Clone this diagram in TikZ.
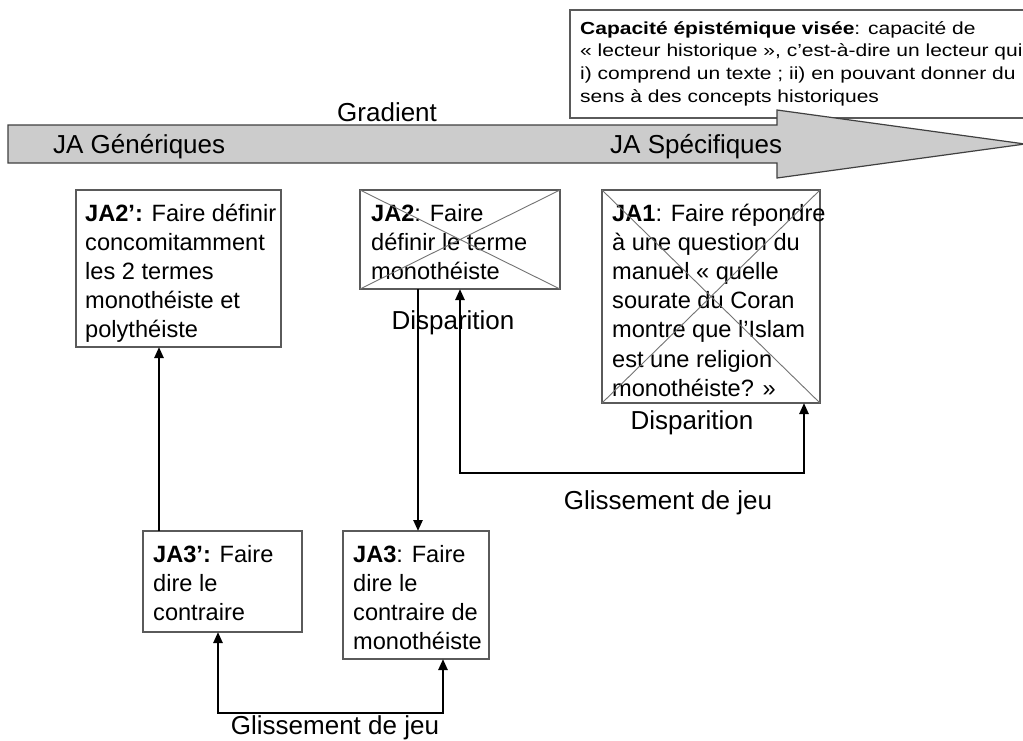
\documentclass[tikz,border=0pt]{standalone}
\usepackage{fontspec}
\setmainfont{Liberation Sans}
\newfontfamily\capfont[FakeStretch=1.2]{Liberation Sans}
\usetikzlibrary{arrows.meta}
\definecolor{arrowfill}{HTML}{CCCCCC}
\definecolor{boxline}{HTML}{5A5A5A}
\tikzset{
  box/.style={draw=boxline, line width=1.1pt, inner sep=0pt, outer sep=0pt, anchor=north west},
  boxtext/.style={inner sep=0pt, anchor=base west, font=\fontsize{23.6}{29.2}\selectfont},
  lbl/.style={inner sep=0pt, anchor=base, font=\fontsize{26}{30}\selectfont},
  biglbl/.style={inner sep=0pt, anchor=base west, font=\fontsize{26}{30}\selectfont},
  tip/.tip={Triangle[length=11pt,width=9pt]},
  conn/.style={line width=2.4pt, -tip},
  conntwo/.style={line width=2.4pt, tip-tip},
  crossline/.style={draw=black!55, line width=0.9pt},
}
\begin{document}
\begin{tikzpicture}[x=1pt,y=-1pt]
\useasboundingbox (0,0) rectangle (1023,740);
\fill[white] (0,0) rectangle (1023,740);

% target capacity box
\node[box, minimum width=460pt, minimum height=108pt] (cap) at (570,10) {};
\node[inner sep=0pt, anchor=base west, font=\capfont\fontsize{17.5}{22.7}\selectfont] (captext)
  at ([xshift=10pt,yshift=-24pt]cap.north west)
  {\begin{tabular}[t]{@{}l@{}}\textbf{Capacité épistémique visée}: capacité de\\
  « lecteur historique », c’est-à-dire un lecteur qui\\
  i) comprend un texte ; ii) en pouvant donner du\\
  sens à des concepts historiques\end{tabular}};

% gradient arrow
\draw[draw=black!75, line width=1.2pt, fill=arrowfill]
  (8,125) -- (777,125) -- (777,110) -- (1025,144) -- (777,178) -- (777,163) -- (8,163) -- cycle;
\node[biglbl] (gen) at (53,153) {JA Génériques};
\node[biglbl] (spec) at (610,153) {JA Spécifiques};
\node[biglbl] (grad) at (337,121) {Gradient};

% boxes
\node[box, minimum width=205pt, minimum height=157pt] (ja2p) at (76,190) {};
\node[box, minimum width=200pt, minimum height=99pt] (ja2) at (360,190) {};
\node[box, minimum width=218pt, minimum height=213pt] (ja1) at (602,190) {};
\node[box, minimum width=159pt, minimum height=101pt] (ja3p) at (143,531) {};
\node[box, minimum width=146pt, minimum height=128pt] (ja3) at (343,531) {};

\node[boxtext] (ja2pt) at ([xshift=9pt,yshift=-31pt]ja2p.north west)
  {\begin{tabular}[t]{@{}l@{}}\textbf{JA2’:} Faire définir\\ concomitamment\\ les 2 termes\\ monothéiste et\\ polythéiste\end{tabular}};
\node[boxtext] (ja2t) at ([xshift=11pt,yshift=-31pt]ja2.north west)
  {\begin{tabular}[t]{@{}l@{}}\textbf{JA2}: Faire\\ définir le terme\\ monothéiste\end{tabular}};
\node[boxtext] (ja1t) at ([xshift=10pt,yshift=-31pt]ja1.north west)
  {\begin{tabular}[t]{@{}l@{}}\textbf{JA1}: Faire répondre\\ à une question du\\ manuel « quelle\\ sourate du Coran\\ montre que l’Islam\\ est une religion\\ monothéiste? »\end{tabular}};
\node[boxtext] (ja3pt) at ([xshift=10pt,yshift=-31pt]ja3p.north west)
  {\begin{tabular}[t]{@{}l@{}}\textbf{JA3’:} Faire\\ dire le\\ contraire\end{tabular}};
\node[boxtext] (ja3t) at ([xshift=10pt,yshift=-31pt]ja3.north west)
  {\begin{tabular}[t]{@{}l@{}}\textbf{JA3}: Faire\\ dire le\\ contraire de\\ monothéiste\end{tabular}};

% crosses
\draw[crossline] (ja2.north west) -- (ja2.south east) (ja2.south west) -- (ja2.north east);
\draw[crossline] (ja1.north west) -- (ja1.south east) (ja1.south west) -- (ja1.north east);

% connectors
\draw[conn] ([xshift=16pt]ja3p.north west) -- ([xshift=16pt]ja3p.north west |- ja2p.south);
\draw[conn] ([xshift=58pt]ja2.south west) -- ([xshift=58pt]ja2.south west |- ja3.north);
\draw[conntwo] ([xshift=100pt]ja2.south west) -- ++(0,184) -| ([xshift=202pt]ja1.south west);
\draw[conntwo] ([xshift=75pt]ja3p.south west) -- ++(0,81) -| ([xshift=100pt]ja3.south west);

% labels
\node[lbl] (dis1) at (453,329) {Disparition};
\node[lbl] (dis2) at (692,429) {Disparition};
\node[lbl] (gl1) at (668,509) {Glissement de jeu};
\node[lbl] (gl2) at (335,734) {Glissement de jeu};
\end{tikzpicture}
\end{document}
